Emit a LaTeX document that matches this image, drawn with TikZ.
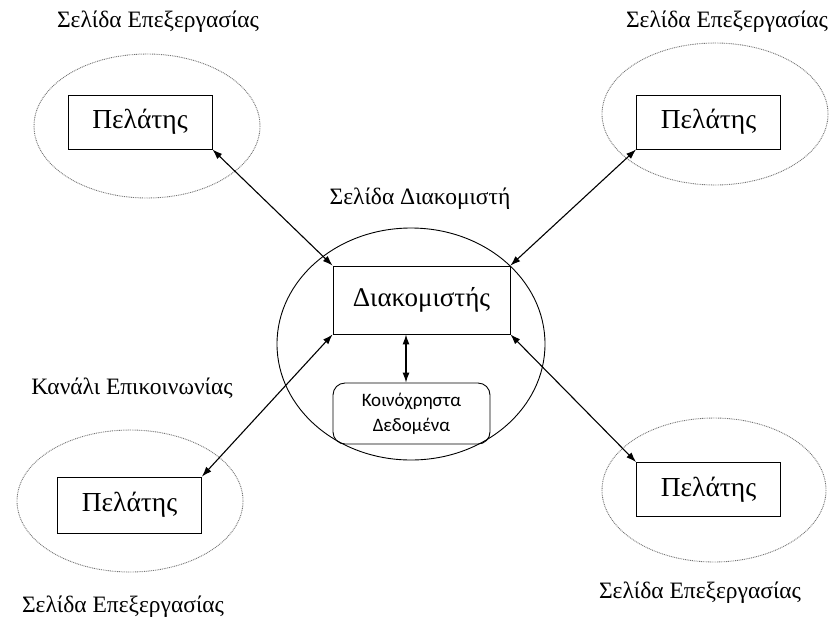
\documentclass[tikz,border=0pt]{standalone}
\usepackage{fontspec}
\setmainfont{Liberation Serif}
\newfontfamily\sansgr{Carlito}
\usetikzlibrary{arrows.meta}
\begin{document}
\begin{tikzpicture}[x=1pt,y=-1pt,
  page/.style={draw=black!55, line width=0.9pt, dash pattern=on 0.9pt off 0.9pt},
  client/.style={draw, line width=0.9pt, minimum width=144pt, minimum height=54pt, inner sep=0pt, font=\fontsize{27.5}{29}\selectfont},
  label/.style={font=\fontsize{23.5}{25}\selectfont, inner sep=0pt},
  link/.style={line width=1.1pt, {Latex[length=10pt,width=7pt]}-{Latex[length=10pt,width=7pt]}}]
\useasboundingbox (0,0) rectangle (832,619);

% processing pages (dotted ellipses)
\draw[page] (147,126) ellipse [x radius=113, y radius=72];
\draw[page] (715,114) ellipse [x radius=113, y radius=71];
\draw[page] (130,501) ellipse [x radius=113, y radius=71];
\draw[page] (714,490) ellipse [x radius=112, y radius=72];

% server page
\draw[line width=0.9pt] (411,344) ellipse [x radius=134, y radius=116];

% clients
\node[client] (tl) at (140,122) {Πελάτης};
\node[client] (tr) at (708.5,122) {Πελάτης};
\node[client, minimum height=56pt] (bl) at (129.5,505) {Πελάτης};
\node[client] (br) at (708.5,489.5) {Πελάτης};

% server and shared data
\node[draw, line width=0.9pt, minimum width=177pt, minimum height=68pt, inner sep=0pt,
      font=\fontsize{27}{29}\selectfont] (srv) at (421.5,300) {Διακομιστής};
\node[draw, line width=0.9pt, rounded corners=12pt, minimum width=157pt, minimum height=61pt,
      inner sep=0pt, align=center, font=\sansgr\fontsize{19}{25}\selectfont] (data) at (411.5,413.5)
      {Κοινόχρηστα\\Δεδομένα};

% labels
\node[label] (l1) at (158,22) {Σελίδα Επεξεργασίας};
\node[label] (l2) at (727,22) {Σελίδα Επεξεργασίας};
\node[label] (l3) at (420,199) {Σελίδα Διακομιστή};
\node[label] (l4) at (132,388) {Κανάλι Επικοινωνίας};
\node[label] (l5) at (123,607) {Σελίδα Επεξεργασίας};
\node[label] (l6) at (700,593) {Σελίδα Επεξεργασίας};

% communication channels
\draw[link] (tl.south east) -- (srv.north west);
\draw[link] (tr.south west) -- (srv.north east);
\draw[link] (bl.north east) -- (srv.south west);
\draw[link] (br.north west) -- (srv.south east);
\draw[link] (srv.south -| 406,0) coordinate (s1) -- (data.north -| s1);
\end{tikzpicture}
\end{document}
